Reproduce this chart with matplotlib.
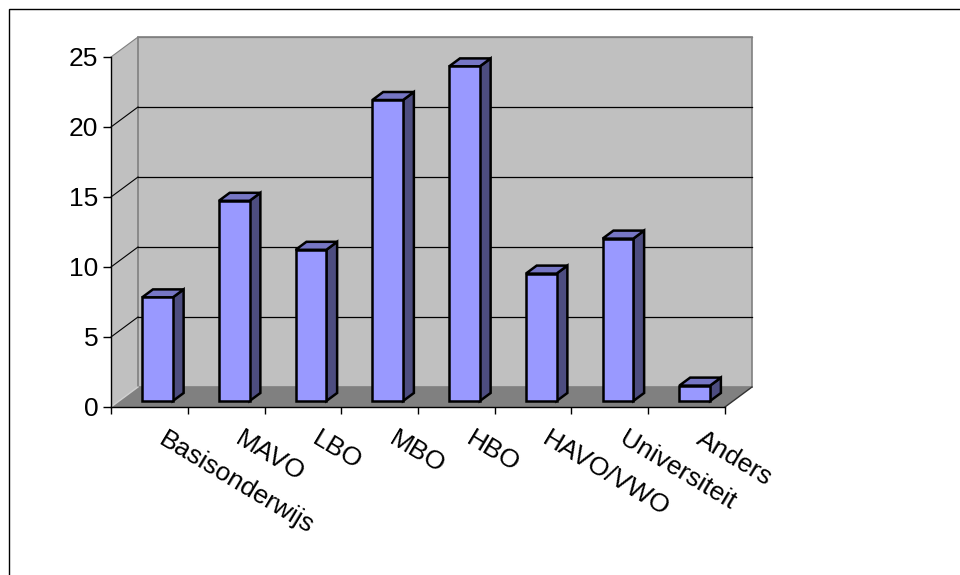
import matplotlib
matplotlib.use("Agg")
import matplotlib.pyplot as plt
from matplotlib.patches import Polygon, Rectangle
from matplotlib.lines import Line2D
from matplotlib.transforms import IdentityTransform, offset_copy

categories = ["Basisonderwijs", "MAVO", "LBO", "MBO", "HBO", "HAVO/VWO", "Universiteit", "Anders"]
values = [7.4, 14.3, 10.8, 21.5, 23.9, 9.1, 11.6, 1.1]
y_ticks = [0, 5, 10, 15, 20, 25]

W, H = 960, 575
DEPTH = (27, 20)          # pixel shift from front plane to back wall
BAR_DEPTH = (0.3, 0.7)    # bar front/back as fraction of the depth
BAR_SPAN = (0.3, 0.7)     # bar left/right inside its category slot

plt.rcParams["font.family"] = ["Liberation Sans", "DejaVu Sans"]
fig = plt.figure(figsize=(W / 100, H / 100), dpi=100)
ax = fig.add_axes([111 / W, (H - 407) / H, 614 / W, 350 / H])
n = len(categories)
ymax = y_ticks[-1]
ax.set_xlim(0, n)
ax.set_ylim(0, ymax)
ax.patch.set_visible(False)


def proj(x, y, f):
    px, py = ax.transData.transform((x, y))
    return (px + DEPTH[0] * f, py + DEPTH[1] * f)


def face(pts, fc, ec="none", lw=0.0, z=1):
    ax.add_patch(Polygon(pts, closed=True, facecolor=fc, edgecolor=ec, linewidth=lw,
                         transform=IdentityTransform(), clip_on=False, zorder=z,
                         joinstyle="miter"))


def seg(a, b, color, lw=1.0, z=1.5):
    ax.add_line(Line2D([a[0], b[0]], [a[1], b[1]], color=color, lw=lw,
                       transform=IdentityTransform(), clip_on=False, zorder=z))


# walls and floor
face([proj(0, 0, 0), proj(0, ymax, 0), proj(0, ymax, 1), proj(0, 0, 1)], "#C0C0C0")
face([proj(0, 0, 1), proj(n, 0, 1), proj(n, ymax, 1), proj(0, ymax, 1)], "#C0C0C0",
     ec="#808080", lw=1.2)
face([proj(0, 0, 0), proj(n, 0, 0), proj(n, 0, 1), proj(0, 0, 1)], "#808080")
seg(proj(n, 0, 0), proj(n, 0, 1), "#333333", 1.0)
seg(proj(0, 0, 0), proj(0, 0, 1), "#D0D0D0", 1.0)

# gridlines on side and back wall
for v in y_ticks[1:]:
    c = "#808080" if v == ymax else "black"
    seg(proj(0, v, 0), proj(0, v, 1), c, 0.8)
    seg(proj(0, v, 1), proj(n, v, 1), c, 0.9)

# bars
f0, f1 = BAR_DEPTH
for i, v in enumerate(values):
    x0, x1 = i + BAR_SPAN[0], i + BAR_SPAN[1]
    face([proj(x1, 0, f0), proj(x1, 0, f1), proj(x1, v, f1), proj(x1, v, f0)],
         "#4D4D80", ec="black", lw=1.8, z=3)
    face([proj(x0, v, f0), proj(x1, v, f0), proj(x1, v, f1), proj(x0, v, f1)],
         "#7676C4", ec="black", lw=1.8, z=3)
    face([proj(x0, 0, f0), proj(x1, 0, f0), proj(x1, v, f0), proj(x0, v, f0)],
         "#9999FF", ec="black", lw=1.8, z=3)

# axes
for side in ("top", "right"):
    ax.spines[side].set_visible(False)
for side in ("left", "bottom"):
    ax.spines[side].set_linewidth(1.0)
    ax.spines[side].set_zorder(4)
ax.set_yticks(y_ticks)
ax.set_yticklabels([str(t) for t in y_ticks])
ax.tick_params(axis="y", direction="out", length=5.5, width=1, labelsize=19, pad=3.5)
ax.set_xticks(range(n + 1))
ax.set_xticklabels([])
ax.tick_params(axis="x", direction="out", length=5, width=1)

label_tr = offset_copy(ax.transData, fig=fig, x=18, y=-20, units="dots")
for i, name in enumerate(categories):
    ax.text(i + 0.5, 0, name, transform=label_tr, rotation=-31, rotation_mode="anchor",
            ha="left", va="top", fontsize=19)

# chart area border
fig.add_artist(Rectangle((9 / W, -0.1), 2, 1 - 9 / H + 0.1, transform=fig.transFigure,
                         fill=False, edgecolor="black", linewidth=1.0))

fig.savefig("out.png", dpi=100, facecolor="white")
